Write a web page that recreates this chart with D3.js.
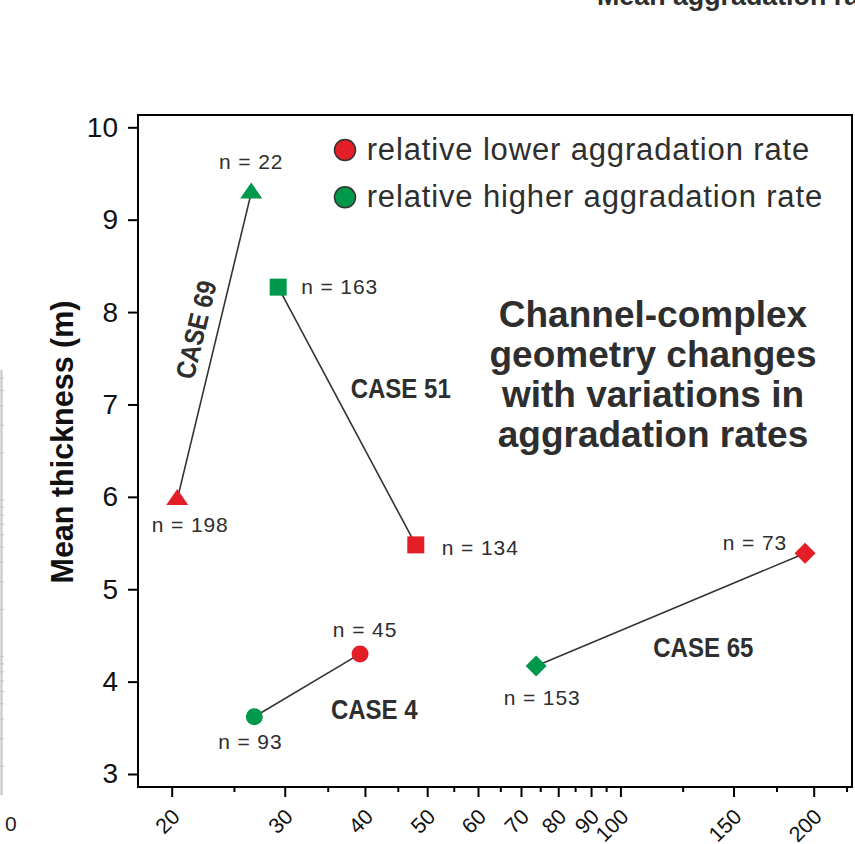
<!DOCTYPE html>
<html>
<head>
<meta charset="utf-8">
<script src="https://cdn.jsdelivr.net/npm/d3@7"></script>
<style>
  body { margin: 0; background: #fff; overflow: hidden; }
  svg { display: block; font-family: "Liberation Sans", Arial, sans-serif; }
</style>
</head>
<body>
<script>
// Each case pairs a lower and a higher aggradation rate point
var caseNames = ["CASE 69", "CASE 51", "CASE 4", "CASE 65"];
var caseShapes = ["triangle", "square", "circle", "diamond"];

// Mean aggradation rate (x, log axis) and mean thickness in m (y)
var lowerRate = [20.4, 48.0, 39.3, 193.9];
var lowerThickness = [5.97, 5.48, 4.30, 5.39];
var lowerN = [198, 134, 45, 73];

var higherRate = [26.6, 29.3, 26.9, 73.9];
var higherThickness = [9.29, 8.27, 3.62, 4.17];
var higherN = [22, 163, 93, 153];

// Where the case names sit, in data units
var caseLabelRate = [21.8, 38.0, 35.4, 112.5];
var caseLabelThickness = [7.81, 7.07, 3.59, 4.27];

// Ticks
var yTicks = [3, 4, 5, 6, 7, 8, 9, 10];
var xMajorTicks = [20, 30, 40, 50, 60, 70, 80, 90, 100, 150, 200];
var xMinorTicks = [25, 35, 45, 55, 65, 75, 85, 95, 125, 175, 225];

var legendLabels = ["relative lower aggradation rate", "relative higher aggradation rate"];
var titleLines = ["Channel-complex", "geometry changes", "with variations in", "aggradation rates"];

// Layout: offsets of the n labels from their marker [dx, dy, anchor]
var lowerLabelPos = [[13, 32, "middle"], [26, 10, "start"], [5, -17, "middle"], [-18, -3, "end"]];
var higherLabelPos = [[0, -24, "middle"], [23, 7, "start"], [-4, 32, "middle"], [6, 39, "middle"]];

var red = "#e41e26";
var green = "#00984a";
var ink = "#2e2e2e";

var w = 855, h = 844;
var frameLeft = 138, frameRight = 852, frameTop = 115, frameBottom = 787;

var svg = d3.select("body").append("svg").attr("width", w).attr("height", h);

var xScale = d3.scaleLog().domain([20, 200]).range([171.7, 813.7]);
var yScale = d3.scaleLinear().domain([3, 10]).range([774, 127.3]);

// Bits of the neighbouring panels that show at the edges
svg.append("text").attr("x", 597).attr("y", 5)
   .style("font-size", "26.8px").style("font-weight", "bold").style("fill", ink)
   .text("Mean aggradation ra");

var sideScale = d3.scaleLog().domain([1, 1000]).range([813.4, 343.3]);
var sideTicks = [];
[1, 10, 100].forEach(function(dec) {
  for (var k = 1; k <= 9; k++) {
    var p = sideScale(dec * k);
    if (p >= 370 && p <= 795) sideTicks.push(p);
  }
});
svg.append("line").attr("x1", 1.5).attr("x2", 1.5).attr("y1", 370).attr("y2", 795)
   .style("stroke", "#c4c4c4").style("stroke-width", 2);
svg.selectAll(".sidetick").data(sideTicks).enter().append("line")
   .attr("class", "sidetick")
   .attr("x1", 0).attr("x2", 4)
   .attr("y1", function(d) { return d; }).attr("y2", function(d) { return d; })
   .style("stroke", "#c4c4c4").style("stroke-width", 1);
svg.append("text").attr("x", 5).attr("y", 831)
   .style("font-size", "21px").style("fill", "#231f20").text("0");

// Frame
svg.append("rect").attr("x", frameLeft).attr("y", frameTop)
   .attr("width", frameRight - frameLeft).attr("height", frameBottom - frameTop)
   .style("fill", "none").style("stroke", "#000").style("stroke-width", 2);

// Y axis
var yAxis = svg.append("g").attr("transform", "translate(" + frameLeft + ",0)")
   .call(d3.axisLeft(yScale).tickValues(yTicks).tickSize(10).tickPadding(10)
           .tickFormat(d3.format("d")));
yAxis.select(".domain").remove();
yAxis.selectAll("line").style("stroke", "#000").style("stroke-width", 2);
yAxis.selectAll("text").style("font-size", "28px").style("fill", "#111")
     .style("font-family", "Liberation Sans, Arial, sans-serif");

// X axis, major ticks with labels and minor ticks without
var xAxis = svg.append("g").attr("transform", "translate(0," + frameBottom + ")")
   .call(d3.axisBottom(xScale).tickValues(xMajorTicks).tickSize(10)
           .tickFormat(d3.format("d")));
xAxis.select(".domain").remove();
xAxis.selectAll("line").style("stroke", "#000").style("stroke-width", 2);
xAxis.selectAll("text")
     .attr("x", 0).attr("y", 0).attr("dy", 0)
     .attr("text-anchor", "end")
     .attr("transform", "translate(9,31) rotate(-45)")
     .style("font-size", "21.5px").style("fill", "#111")
     .style("font-family", "Liberation Sans, Arial, sans-serif");

var xMinor = svg.append("g").attr("transform", "translate(0," + frameBottom + ")")
   .call(d3.axisBottom(xScale).tickValues(xMinorTicks).tickSize(5).tickFormat(""));
xMinor.select(".domain").remove();
xMinor.selectAll("line").style("stroke", "#000").style("stroke-width", 2);

// Y axis title
svg.append("text").attr("transform", "translate(73,442) rotate(-90)")
   .attr("text-anchor", "middle")
   .style("font-size", "30.5px").style("font-weight", "bold").style("fill", "#111")
   .text("Mean thickness (m)");

// Marker shapes centred on 0,0
function markerPath(shape) {
  var p = d3.path();
  if (shape == "triangle") {
    p.moveTo(0, -10.5); p.lineTo(11, 5.5); p.lineTo(-11, 5.5); p.closePath();
  } else if (shape == "square") {
    p.rect(-8.5, -8.5, 17, 17);
  } else if (shape == "circle") {
    p.moveTo(8.5, 0); p.arc(0, 0, 8.5, 0, 2 * Math.PI);
  } else {
    p.moveTo(0, -10.5); p.lineTo(10.5, 0); p.lineTo(0, 10.5); p.lineTo(-10.5, 0); p.closePath();
  }
  return p.toString();
}

var cases = caseNames.map(function(name, i) {
  return {
    name: name, shape: caseShapes[i],
    lx: xScale(lowerRate[i]), ly: yScale(lowerThickness[i]), ln: lowerN[i],
    hx: xScale(higherRate[i]), hy: yScale(higherThickness[i]), hn: higherN[i],
    tx: xScale(caseLabelRate[i]), ty: yScale(caseLabelThickness[i]),
    lpos: lowerLabelPos[i], hpos: higherLabelPos[i]
  };
});

// Connecting lines
svg.selectAll(".link").data(cases).enter().append("line")
   .attr("class", "link")
   .attr("x1", function(d) { return d.lx; }).attr("y1", function(d) { return d.ly; })
   .attr("x2", function(d) { return d.hx; }).attr("y2", function(d) { return d.hy; })
   .style("stroke", "#333").style("stroke-width", 1.6);

// Markers
svg.selectAll(".low").data(cases).enter().append("path")
   .attr("class", "low")
   .attr("d", function(d) { return markerPath(d.shape); })
   .attr("transform", function(d) { return "translate(" + d.lx + "," + d.ly + ")"; })
   .style("fill", red);
svg.selectAll(".high").data(cases).enter().append("path")
   .attr("class", "high")
   .attr("d", function(d) { return markerPath(d.shape); })
   .attr("transform", function(d) { return "translate(" + d.hx + "," + d.hy + ")"; })
   .style("fill", green);

// n labels
svg.selectAll(".nlow").data(cases).enter().append("text")
   .attr("class", "nlow")
   .attr("x", function(d) { return d.lx + d.lpos[0]; })
   .attr("y", function(d) { return d.ly + d.lpos[1]; })
   .attr("text-anchor", function(d) { return d.lpos[2]; })
   .style("font-size", "21px").style("letter-spacing", "0.9px").style("fill", ink)
   .text(function(d) { return "n = " + d.ln; });
svg.selectAll(".nhigh").data(cases).enter().append("text")
   .attr("class", "nhigh")
   .attr("x", function(d) { return d.hx + d.hpos[0]; })
   .attr("y", function(d) { return d.hy + d.hpos[1]; })
   .attr("text-anchor", function(d) { return d.hpos[2]; })
   .style("font-size", "21px").style("letter-spacing", "0.9px").style("fill", ink)
   .text(function(d) { return "n = " + d.hn; });

// Case names, the first one runs along its line
svg.selectAll(".casename").data(cases).enter().append("text")
   .attr("class", "casename")
   .attr("text-anchor", function(d, i) { return i == 0 ? "middle" : "start"; })
   .attr("dy", function(d, i) { return i == 0 ? "0.36em" : 0; })
   .attr("transform", function(d, i) {
     if (i == 0) {
       var angle = Math.atan2(d.hy - d.ly, d.hx - d.lx) * 180 / Math.PI;
       return "translate(" + d.tx + "," + d.ty + ") rotate(" + angle + ") scale(0.89,1)";
     }
     return "translate(" + d.tx + "," + d.ty + ") scale(0.89,1)";
   })
   .style("font-size", "27px").style("font-weight", "bold").style("fill", ink)
   .text(function(d) { return d.name; });

// Legend
var legend = svg.selectAll(".legend").data(legendLabels).enter().append("g")
   .attr("class", "legend")
   .attr("transform", function(d, i) { return "translate(345," + (150 + i * 47.3) + ")"; });
legend.append("circle").attr("r", 10.5)
   .style("fill", function(d, i) { return i == 0 ? red : green; })
   .style("stroke", "#333").style("stroke-width", 1.5);
legend.append("text").attr("x", 21.7).attr("y", 9.5)
   .style("font-size", "31px").style("letter-spacing", "0.85px").style("fill", ink)
   .text(function(d) { return d; });

// Title block
svg.selectAll(".title").data(titleLines).enter().append("text")
   .attr("class", "title")
   .attr("x", 653).attr("y", function(d, i) { return 326.7 + i * 40; })
   .attr("text-anchor", "middle")
   .style("font-size", "37px").style("font-weight", "bold").style("fill", ink)
   .text(function(d) { return d; });
</script>
</body>
</html>
